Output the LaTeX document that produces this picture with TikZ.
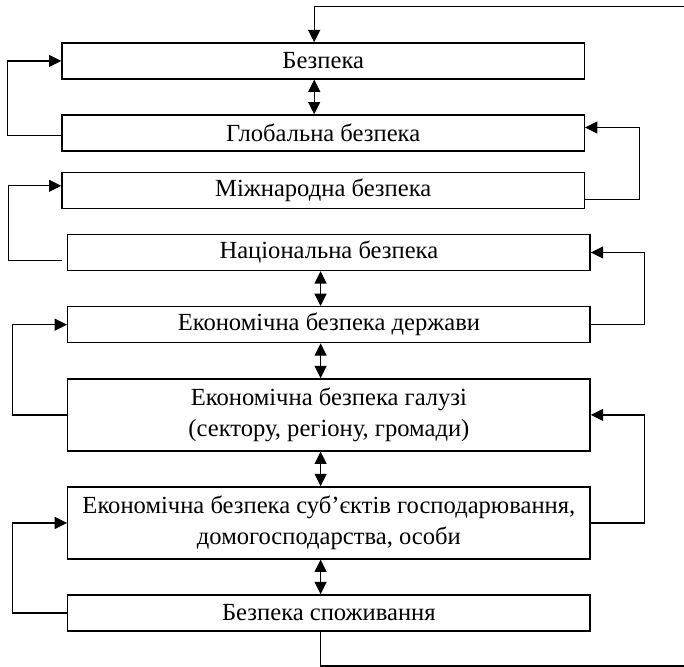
\documentclass[tikz,border=0pt]{standalone}
\usepackage{fontspec}
\setmainfont{Liberation Serif}
\usetikzlibrary{arrows.meta}

\begin{document}
\begin{tikzpicture}[x=0.02cm, y=-0.02cm,
    box/.style={draw, line width=0.8pt, minimum width=10.45cm, minimum height=0.72cm,
        inner sep=0pt, align=center, font=\fontsize{14}{18}\selectfont},
    tallbox/.style={box, minimum height=1.44cm},
    link/.style={line width=0.7pt},
    arr/.style={link, -{Triangle[length=7pt, width=6.8pt]}},
    dbl/.style={link, {Triangle[length=7pt, width=6.8pt]}-{Triangle[length=7pt, width=6.8pt]}}]
    \useasboundingbox (0,0) rectangle (684,667);

    % boxes
    \node[box] (bezpeka) at (323.2,60.9) {Безпека};
    \node[box] (global) at (323.2,133) {Глобальна безпека};
    \node[box] (mizhnar) at (323.2,190.3) {Міжнародна безпека};
    \node[box] (nacion) at (328.9,252.5) {Національна безпека};
    \node[box] (derzh) at (328.9,324.7) {Економічна безпека держави};
    \node[tallbox] (galuz) at (328.9,414.9) {Економічна безпека галузі\\(сектору, регіону, громади)};
    \node[tallbox] (subj) at (328.9,522.9) {Економічна безпека суб’єктів господарювання,\\домогосподарства, особи};
    \node[box] (spozh) at (328.9,612.9) {Безпека споживання};

    \coordinate (topR) at (684,6.7);
    \coordinate (natL) at (62,260.7);
    \coordinate (botR) at (684,666);

    % vertical links
    \draw[arr] (topR) -| ([xshift=-0.18cm]bezpeka.north);
    \draw[dbl] ([xshift=-0.18cm]bezpeka.south) -- ([xshift=-0.18cm]global.north);
    \draw[dbl] ([xshift=-0.166cm]nacion.south) -- ([xshift=-0.166cm]derzh.north);
    \draw[dbl] ([xshift=-0.166cm]derzh.south) -- ([xshift=-0.166cm]galuz.north);
    \draw[dbl] ([xshift=-0.166cm]galuz.south) -- ([xshift=-0.166cm]subj.north);
    \draw[dbl] ([xshift=-0.166cm]subj.south) -- ([xshift=-0.166cm]spozh.north);
    \draw[link] ([xshift=-0.166cm]spozh.south) |- (botR);

    % left loops
    \draw[arr] ([yshift=-0.05cm]global.west) -- ++(-53.7,0) |- (bezpeka.west);
    \draw[arr] (natL) -- ++(-53.7,0) |- ([yshift=0.09cm]mizhnar.west);
    \draw[arr] (galuz.west) -- ++(-54.4,0) |- (derzh.west);
    \draw[arr] (spozh.west) -- ++(-54.4,0) |- (subj.west);

    % right loops
    \draw[arr] ([yshift=-0.19cm]mizhnar.east) -- ++(54.4,0) |- ([yshift=0.11cm]global.east);
    \draw[arr] (derzh.east) -- ++(53.7,0) |- (nacion.east);
    \draw[arr] (subj.east) -- ++(53.7,0) |- (galuz.east);
\end{tikzpicture}
\end{document}
